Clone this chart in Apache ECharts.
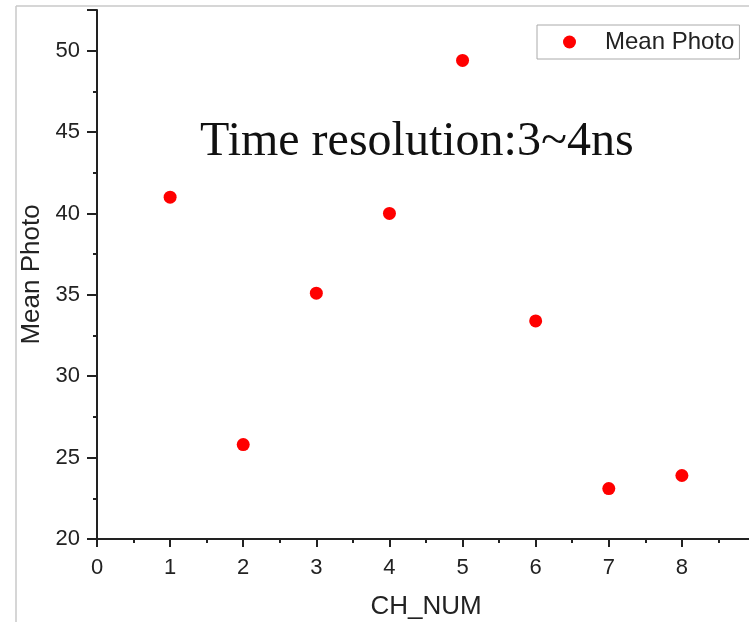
<!DOCTYPE html>
<html>
<head>
<meta charset="utf-8">
<script src="https://cdn.jsdelivr.net/npm/echarts@6/dist/echarts.min.js"></script>
<style>html,body{margin:0;padding:0;background:#fff}#c{width:749px;height:622px}</style>
</head>
<body>
<div id="c"></div>
<script>
const channels = [1, 2, 3, 4, 5, 6, 7, 8];
const meanPhoto = [41.0, 25.8, 35.1, 40.0, 49.4, 33.4, 23.1, 23.9];
const seriesName = 'Mean Photo';
const titleText = 'Time resolution:3~4ns';
const xName = 'CH_NUM';
const yName = 'Mean Photo';

const chart = echarts.init(document.getElementById('c'), null, {renderer: 'canvas'});
const axisColor = '#222';
const font = 'Liberation Sans, Arial, sans-serif';
chart.setOption({
  animation: false,
  backgroundColor: '#fff',
  title: {
    text: titleText, left: 200, top: 118, padding: 0,
    textStyle: {fontFamily: 'Liberation Serif, Times New Roman, serif', fontSize: 48, fontWeight: 'normal', color: '#111'}
  },
  legend: {
    data: [seriesName], left: 537, top: 25, orient: 'vertical',
    borderColor: '#aaa', borderWidth: 1, padding: [5, 5, 5, 26],
    itemHeight: 13, icon: 'circle',
    textStyle: {fontFamily: font, fontSize: 24, color: '#222', padding: [0, 0, 0, 18]}
  },
  graphic: [
    {type: 'line', shape: {x1: 16, y1: 6, x2: 749, y2: 6}, style: {stroke: '#c8c8c8', lineWidth: 1.5}, silent: true},
    {type: 'line', shape: {x1: 16, y1: 6, x2: 16, y2: 622}, style: {stroke: '#c8c8c8', lineWidth: 1.5}, silent: true}
  ],
  grid: {left: 97, width: 658, top: 10, bottom: 83, containLabel: false, outerBoundsMode: 'none'},
  xAxis: {
    type: 'value', min: 0, max: 9, interval: 1,
    name: xName, nameLocation: 'middle', nameGap: 55,
    nameTextStyle: {fontFamily: font, fontSize: 26, color: '#222'},
    axisLine: {onZero: false, lineStyle: {color: axisColor, width: 2}},
    axisTick: {show: true, length: 8, lineStyle: {color: axisColor, width: 2}},
    minorTick: {show: true, splitNumber: 2, length: 4, lineStyle: {color: axisColor, width: 2}},
    axisLabel: {fontFamily: font, fontSize: 22, color: '#222', margin: 18, showMaxLabel: false},
    splitLine: {show: false}
  },
  yAxis: {
    type: 'value', min: 20, max: 52.5, interval: 5,
    name: yName, nameLocation: 'middle', nameGap: 51,
    nameTextStyle: {fontFamily: font, fontSize: 26, color: '#222'},
    axisLine: {onZero: false, lineStyle: {color: axisColor, width: 2}},
    axisTick: {show: true, length: 10, lineStyle: {color: axisColor, width: 2}},
    minorTick: {show: true, splitNumber: 2, length: 4, lineStyle: {color: axisColor, width: 2}},
    axisLabel: {fontFamily: font, fontSize: 22, color: '#222', margin: 17, showMaxLabel: false},
    splitLine: {show: false}
  },
  series: [{
    name: seriesName, type: 'scatter', symbol: 'circle', symbolSize: 13,
    itemStyle: {color: '#ff0000', opacity: 1},
    data: channels.map((c, i) => [c, meanPhoto[i]])
  }]
});
</script>
</body>
</html>
